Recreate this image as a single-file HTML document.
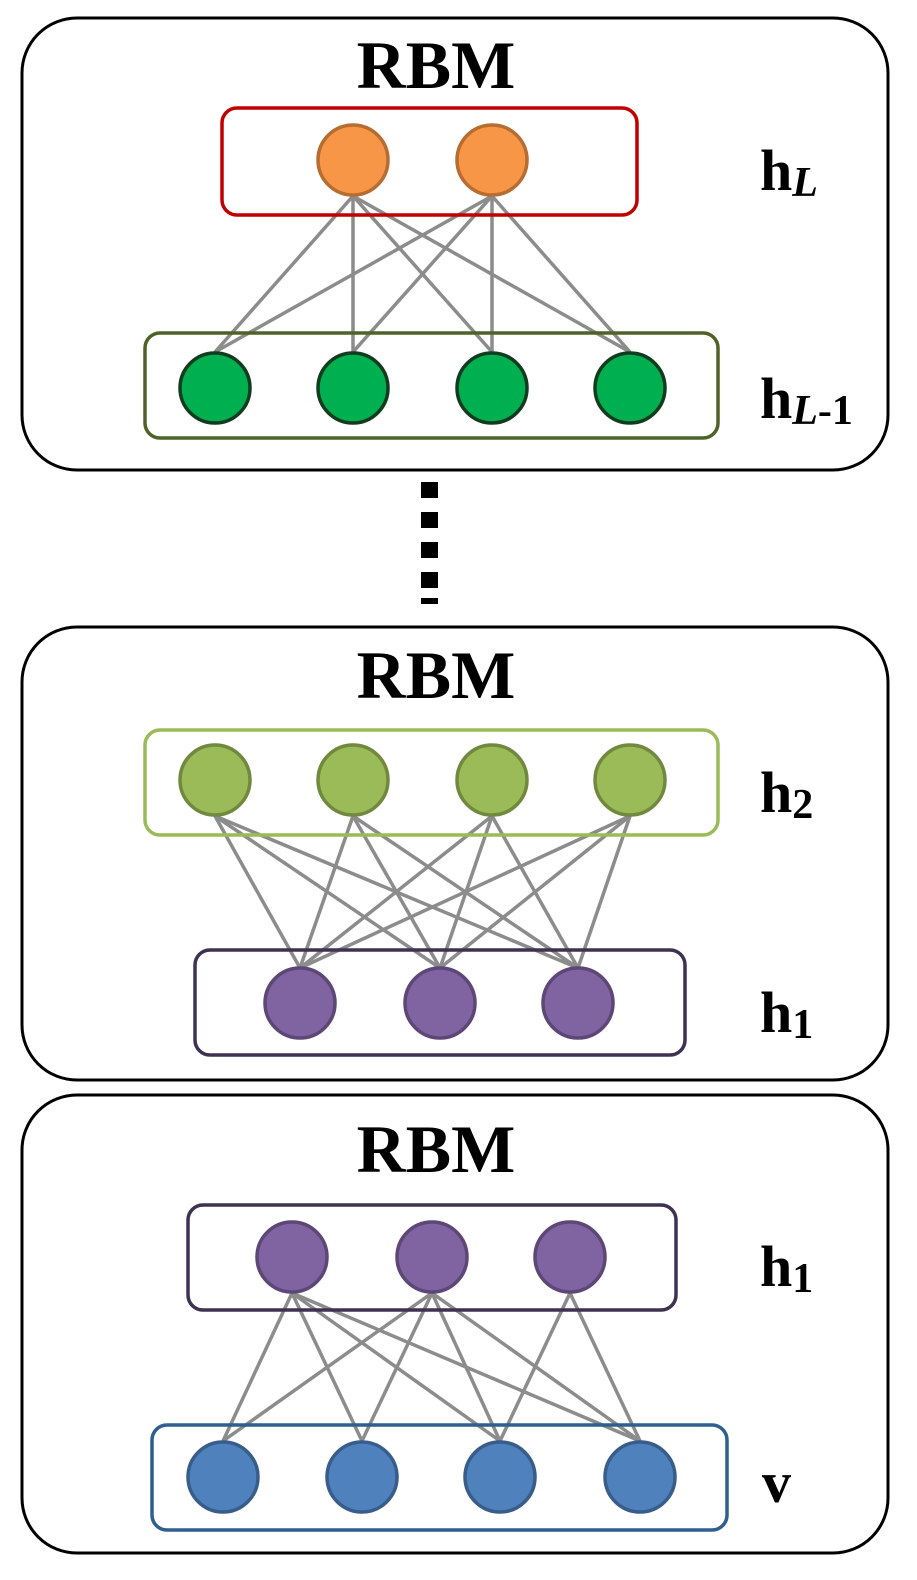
<!DOCTYPE html>
<html><head><meta charset="utf-8"><style>
html,body{margin:0;padding:0;background:#fff;}
svg{display:block;}
text{font-family:"Liberation Serif",serif;font-weight:bold;fill:#000;}
</style></head><body>
<svg width="917" height="1580" viewBox="0 0 917 1580" xmlns="http://www.w3.org/2000/svg">
<g fill="none" stroke="#000" stroke-width="3">
<rect x="22" y="18" width="866" height="452" rx="55"/>
<rect x="22" y="627" width="866" height="453" rx="55"/>
<rect x="22" y="1095" width="866" height="458" rx="55"/>
</g>
<g font-size="68" text-anchor="middle">
<text x="436" y="88">RBM</text>
<text x="436" y="698">RBM</text>
<text x="436" y="1172">RBM</text>
</g>
<g fill="#000">
<rect x="421" y="482" width="17" height="16"/>
<rect x="421" y="512" width="17" height="16"/>
<rect x="421" y="542" width="17" height="16"/>
<rect x="421" y="572" width="17" height="16"/>
<rect x="421" y="598" width="17" height="6"/>
</g>
<g stroke="#8c8c8c" stroke-width="3.5">
<line x1="353" y1="196" x2="215" y2="352"/><line x1="353" y1="196" x2="353" y2="352"/><line x1="353" y1="196" x2="492" y2="352"/><line x1="353" y1="196" x2="630" y2="352"/>
<line x1="492" y1="196" x2="215" y2="352"/><line x1="492" y1="196" x2="353" y2="352"/><line x1="492" y1="196" x2="492" y2="352"/><line x1="492" y1="196" x2="630" y2="352"/>
<line x1="215" y1="816" x2="300" y2="968"/><line x1="215" y1="816" x2="440" y2="968"/><line x1="215" y1="816" x2="578" y2="968"/>
<line x1="353" y1="816" x2="300" y2="968"/><line x1="353" y1="816" x2="440" y2="968"/><line x1="353" y1="816" x2="578" y2="968"/>
<line x1="492" y1="816" x2="300" y2="968"/><line x1="492" y1="816" x2="440" y2="968"/><line x1="492" y1="816" x2="578" y2="968"/>
<line x1="630" y1="816" x2="300" y2="968"/><line x1="630" y1="816" x2="440" y2="968"/><line x1="630" y1="816" x2="578" y2="968"/>
<line x1="292" y1="1293" x2="223" y2="1441"/><line x1="292" y1="1293" x2="362" y2="1441"/><line x1="292" y1="1293" x2="500" y2="1441"/><line x1="292" y1="1293" x2="640" y2="1441"/>
<line x1="432" y1="1293" x2="223" y2="1441"/><line x1="432" y1="1293" x2="362" y2="1441"/><line x1="432" y1="1293" x2="500" y2="1441"/><line x1="432" y1="1293" x2="640" y2="1441"/>
<line x1="570" y1="1293" x2="500" y2="1441"/><line x1="570" y1="1293" x2="640" y2="1441"/>
</g>
<g fill="none" stroke-width="3.5">
<rect x="222" y="108" width="415" height="107" rx="15" stroke="#c00000"/>
<rect x="145" y="333" width="573" height="105" rx="15" stroke="#4f6228"/>
<rect x="145" y="730" width="573" height="105" rx="15" stroke="#9bbb59"/>
<rect x="195" y="950" width="490" height="105" rx="15" stroke="#3f3151"/>
<rect x="188" y="1205" width="488" height="105" rx="15" stroke="#3f3151"/>
<rect x="152" y="1425" width="575" height="105" rx="15" stroke="#2e5f8f"/>
</g>
<g stroke-width="3.5">
<g fill="#f79646" stroke="#b66d31"><circle cx="353" cy="160" r="35"/><circle cx="492" cy="160" r="35"/></g>
<g fill="#00b050" stroke="#113d1e"><circle cx="215" cy="388" r="35"/><circle cx="353" cy="388" r="35"/><circle cx="492" cy="388" r="35"/><circle cx="630" cy="388" r="35"/></g>
<g fill="#9bbb59" stroke="#71893f"><circle cx="215" cy="780" r="35"/><circle cx="353" cy="780" r="35"/><circle cx="492" cy="780" r="35"/><circle cx="630" cy="780" r="35"/></g>
<g fill="#8064a2" stroke="#5c4776"><circle cx="300" cy="1003" r="35"/><circle cx="440" cy="1003" r="35"/><circle cx="578" cy="1003" r="35"/>
<circle cx="292" cy="1257" r="35"/><circle cx="432" cy="1257" r="35"/><circle cx="570" cy="1257" r="35"/></g>
<g fill="#4f81bd" stroke="#385d8a"><circle cx="223" cy="1477" r="35"/><circle cx="362" cy="1477" r="35"/><circle cx="500" cy="1477" r="35"/><circle cx="640" cy="1477" r="35"/></g>
</g>
<g font-size="58">
<text x="760" y="190">h<tspan font-size="42" font-style="italic" dy="6">L</tspan></text>
<text x="760" y="418">h<tspan font-size="42" dy="6"><tspan font-style="italic">L</tspan>-1</tspan></text>
<text x="760" y="812">h<tspan font-size="42" dy="6">2</tspan></text>
<text x="760" y="1032">h<tspan font-size="42" dy="6">1</tspan></text>
<text x="760" y="1286">h<tspan font-size="42" dy="6">1</tspan></text>
<text x="762" y="1502">v</text>
</g>
</svg>
</body></html>
